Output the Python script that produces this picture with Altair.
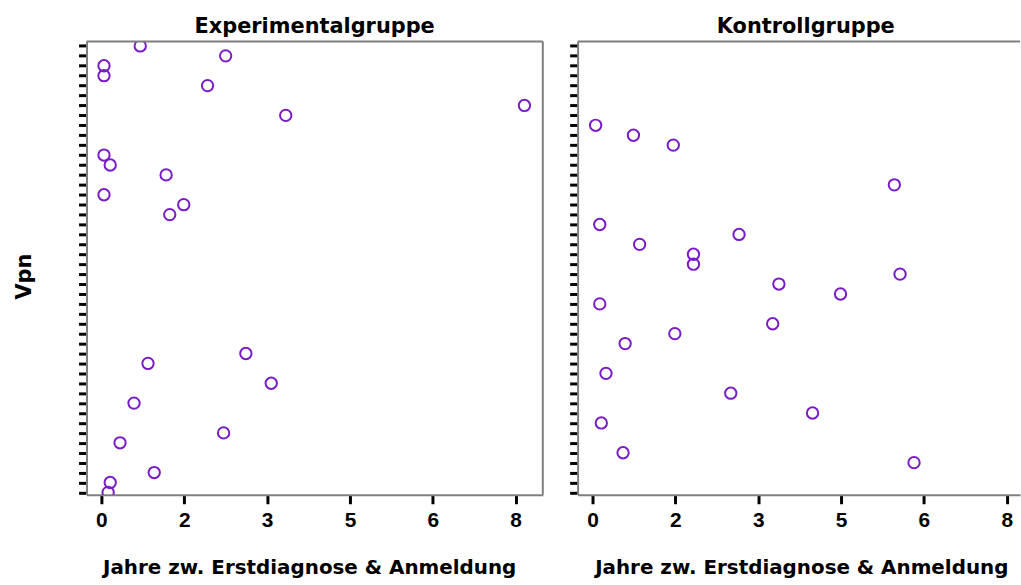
import altair as alt
import pandas as pd

# ---- data ----
panel_titles = ["Experimentalgruppe", "Kontrollgruppe"]
x_title = "Jahre zw. Erstdiagnose & Anmeldung"
y_title = "Vpn"

vpn_exp = [1, 2, 3, 4, 5, 7, 8, 12, 13, 14, 16, 17, 18, 32, 33, 35, 37, 40, 41, 44, 45, 46]
jahre_exp = [0.75, 2.40, 0.05, 0.05, 2.05, 8.17, 3.56, 0.05, 0.17, 1.25, 0.05, 1.59,
             1.32, 2.79, 0.90, 3.28, 0.63, 2.36, 0.36, 1.02, 0.17, 0.13]

vpn_kon = [9, 10, 11, 15, 19, 20, 21, 22, 23, 24, 25, 26, 27, 29, 30, 31, 34, 36, 38, 39, 42, 43]
jahre_kon = [0.06, 0.79, 1.56, 5.83, 0.14, 2.83, 0.91, 1.95, 1.95, 5.94, 3.60, 4.79,
             0.14, 3.48, 1.59, 0.63, 0.26, 2.67, 4.25, 0.17, 0.59, 6.21]

x_tick_values = [0, 1.6, 3.2, 4.8, 6.4, 8.0]
vpn_tick_values = list(range(1, 47))

PURPLE = "#7a1cc6"
FRAME = "#7f7f7f"
TFONT = "DejaVu Sans"
LFONT = "Liberation Sans"


def panel(vpn, jahre, title, width, xmax, show_ytitle, right_border, title_dx, xtitle_x):
    df = pd.DataFrame({"Vpn": vpn, "Jahre": jahre})
    x_axis = alt.Axis(
        values=x_tick_values, format=".0f", grid=False,
        domainColor=FRAME, domainWidth=2,
        tickColor="black", tickWidth=3, tickSize=9,
        labelFont=LFONT, labelFontSize=21, labelFontWeight="bold",
        labelColor="black", labelPadding=6,
        title=x_title, titleFont=TFONT, titleFontSize=20, titleFontWeight="bold",
        titleColor="black", titlePadding=27, titleX=xtitle_x,
    )
    y_kwargs = dict(
        values=vpn_tick_values, labels=False, grid=False,
        domainColor=FRAME, domainWidth=2,
        tickColor="black", tickWidth=3, tickSize=8,
    )
    if show_ytitle:
        y_axis = alt.Axis(title=y_title, titleFont=TFONT, titleFontSize=21,
                          titleFontWeight="bold", titleColor="black",
                          titleX=-52, titleY=236, **y_kwargs)
    else:
        y_axis = alt.Axis(title=None, **y_kwargs)

    points = alt.Chart(df).mark_point(
        shape="circle", filled=False, size=130, strokeWidth=2, color=PURPLE, opacity=1, clip=True
    ).encode(
        x=alt.X("Jahre:Q", scale=alt.Scale(domain=[-0.288, xmax], nice=False, zero=False), axis=x_axis),
        y=alt.Y("Vpn:Q", scale=alt.Scale(domain=[0.55, 46.24], reverse=True, nice=False, zero=False), axis=y_axis),
    )
    frame_df = pd.DataFrame({"k": [0]})
    layers = [points,
              alt.Chart(frame_df).mark_rule(color=FRAME, strokeWidth=2).encode(y=alt.value(0))]
    if right_border:
        layers.append(alt.Chart(frame_df).mark_rule(color=FRAME, strokeWidth=2).encode(x=alt.value(width)))
    return alt.layer(*layers).properties(
        width=width, height=456,
        title=alt.TitleParams(title, font=TFONT, fontSize=21, fontWeight="bold", color="black",
                              anchor="middle", frame="group", offset=4, dx=title_dx),
    )


left = panel(vpn_exp, jahre_exp, panel_titles[0], 459, 8.525, True, True, 0, 224)
right = panel(vpn_kon, jahre_kon, panel_titles[1], 445, 8.257, False, False, 7, 225)

chart = alt.hconcat(left, right, spacing=24).properties(
    padding={"left": 14, "top": 14, "right": 0, "bottom": 0},
    background="white",
).configure_view(stroke=None)

chart.save("out.html", embed_options={"renderer": "svg", "actions": False})
